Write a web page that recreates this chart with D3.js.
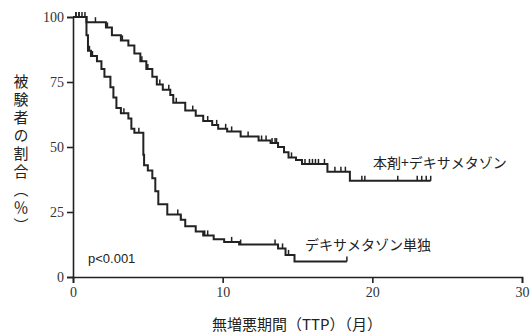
<html>
<head>
<meta charset="utf-8">
<style>
  body { margin: 0; background: #fff; }
  .tick text { font-family: "Liberation Serif", "DejaVu Serif", serif; font-size: 14px; fill: #333; }
  .lbl { font-family: "Noto Sans CJK JP", sans-serif; fill: #222; }
</style>
</head>
<body>
<svg></svg>
<script src="https://cdnjs.cloudflare.com/ajax/libs/d3/7.8.5/d3.min.js"></script>
<script>
// combination arm (本剤+デキサメタゾン): step times and survival %
const comboTimes = [0, 0.9, 2.2, 2.6, 3.2, 3.7, 4.1, 4.5, 4.9, 5.3, 5.6, 6.0, 6.5, 6.7, 7.5, 8.2, 8.7, 9.3, 9.7, 10.3, 11.2, 12.4, 13.2, 13.7, 14.1, 14.4, 14.9, 15.3, 17.0, 18.5];
const comboSurv  = [100, 98, 96, 93, 91, 89, 86, 83, 80, 77, 74, 72, 70, 67, 64, 62, 60, 58.5, 57, 56, 54, 52.5, 51.5, 50, 48, 46, 45, 43.5, 40.5, 37];
const comboEnd = 23.9;
const comboCensor = [0.2, 0.4, 0.6, 0.8, 1.5, 2.3, 3.3, 4.6, 5.0, 5.8, 6.4, 6.9, 8.0, 9.0, 9.6, 10.2, 10.6, 11.7, 12.6, 12.9, 13.3, 13.5, 13.6, 14.6, 15.5, 15.8, 16.0, 16.2, 16.4, 16.8, 17.5, 17.9, 18.2, 19.3, 19.5, 21.7, 23.0, 23.3, 23.6, 23.9];

// dexamethasone alone (デキサメタゾン単独)
const dexTimes = [0, 0.9, 1.0, 1.2, 1.6, 1.9, 2.1, 2.5, 2.7, 2.9, 3.2, 3.7, 3.9, 4.1, 4.7, 4.75, 5.0, 5.3, 5.5, 5.7, 6.3, 7.2, 7.5, 8.2, 8.7, 9.4, 10.1, 11.1, 13.7, 14.2, 14.8];
const dexSurv  = [100, 93, 87, 85, 83, 80, 77, 73, 69, 65, 63, 61, 57, 55.5, 47, 43, 41, 38, 33, 28, 24, 22, 19.5, 17.5, 16, 14.5, 13.5, 12.5, 11, 8.5, 6];
const dexEnd = 18.3;
const dexCensor = [0.2, 0.4, 1.1, 1.3, 3.4, 4.4, 7.0, 7.2, 8.8, 9.0, 10.6, 11.2, 13.5, 14.0, 14.4, 18.3];

const xTicks = [0, 10, 20, 30];
const yTicks = [0, 25, 50, 75, 100];

const width = 531, height = 335;
const svg = d3.select("svg").attr("width", width).attr("height", height);

const x = d3.scaleLinear().domain([0, 30]).range([73, 522]);
const y = d3.scaleLinear().domain([0, 100]).range([277, 17]);

// axes
svg.append("g")
    .attr("transform", "translate(0,277)")
    .call(d3.axisBottom(x).tickValues(xTicks).tickSize(6).tickPadding(4))
    .call(g => g.select(".domain").attr("stroke", "#222").attr("stroke-width", 1.6))
    .call(g => g.selectAll(".tick line").attr("stroke", "#222").attr("stroke-width", 1.6));

svg.append("g")
    .attr("transform", "translate(73,0)")
    .call(d3.axisLeft(y).tickValues(yTicks).tickSize(6).tickPadding(3))
    .call(g => g.select(".domain").attr("stroke", "#222").attr("stroke-width", 1.6))
    .call(g => g.selectAll(".tick line").attr("stroke", "#222").attr("stroke-width", 1.6));

function stepPoints(times, surv, end) {
    const pts = times.map((t, i) => [t, surv[i]]);
    pts.push([end, surv[surv.length - 1]]);
    return pts;
}
function survAt(times, surv, t) {
    let s = surv[0];
    for (let i = 0; i < times.length; i++) if (times[i] <= t) s = surv[i];
    return s;
}

const line = d3.line()
    .x(d => x(d[0]))
    .y(d => y(d[1]))
    .curve(d3.curveStepAfter);

const arms = [
    {times: comboTimes, surv: comboSurv, end: comboEnd, censor: comboCensor},
    {times: dexTimes, surv: dexSurv, end: dexEnd, censor: dexCensor}
];

arms.forEach(a => {
    svg.append("path")
        .datum(stepPoints(a.times, a.surv, a.end))
        .attr("fill", "none")
        .attr("stroke", "#222")
        .attr("stroke-width", 2)
        .attr("d", line);

    // censor marks
    svg.append("g")
        .selectAll("line")
        .data(a.censor)
        .join("line")
        .attr("x1", d => x(d))
        .attr("x2", d => x(d))
        .attr("y1", d => y(survAt(a.times, a.surv, d)))
        .attr("y2", d => y(survAt(a.times, a.surv, d)) - 5)
        .attr("stroke", "#222")
        .attr("stroke-width", 1.5);
});

// labels
svg.append("text").attr("class", "lbl")
    .attr("x", 373).attr("y", 168)
    .style("font-size", "14px")
    .text("本剤+デキサメタゾン");

svg.append("text").attr("class", "lbl")
    .attr("x", 305).attr("y", 250)
    .style("font-size", "14px")
    .text("デキサメタゾン単独");

svg.append("text")
    .attr("x", 88).attr("y", 263)
    .style("font-family", "Arial, 'Liberation Sans', sans-serif")
    .style("font-size", "13px")
    .attr("fill", "#222")
    .text("p<0.001");

// axis titles
svg.append("text").attr("class", "lbl")
    .attr("x", 297).attr("y", 330)
    .attr("text-anchor", "middle")
    .style("font-size", "15px")
    .text("無増悪期間（TTP）（月）");

svg.append("text").attr("class", "lbl")
    .attr("x", 21).attr("y", 74)
    .style("writing-mode", "vertical-rl")
    .style("font-size", "15px")
    .style("letter-spacing", "3px")
    .text("被験者の割合︵％︶");
</script>
</body>
</html>
